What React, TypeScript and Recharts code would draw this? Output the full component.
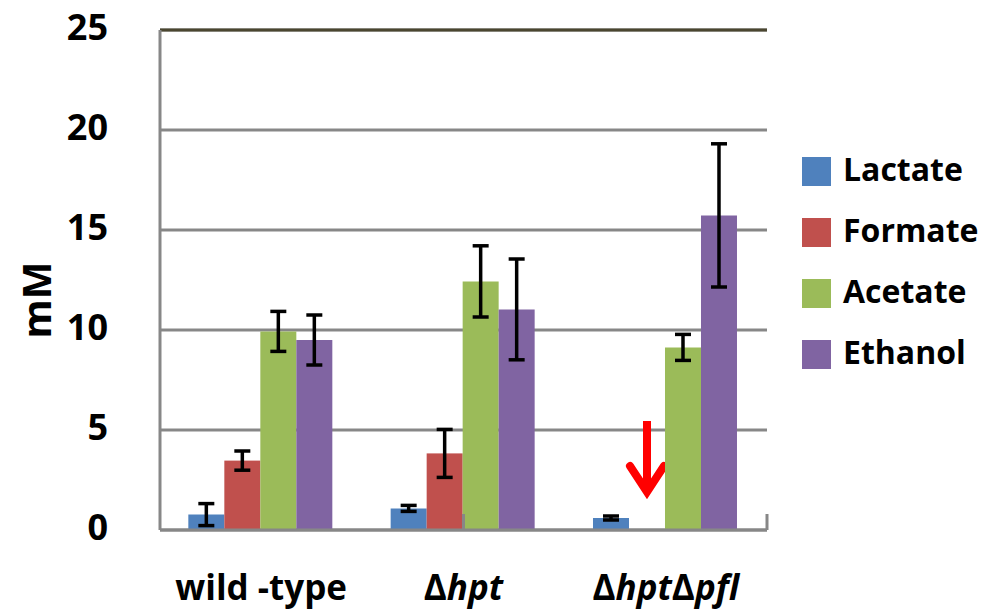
import React from "react";
import {
  BarChart, Bar, XAxis, YAxis, CartesianGrid, ErrorBar, Legend, ReferenceLine,
} from "recharts";

const STRAINS = ["wild -type", "Δhpt", "ΔhptΔpfl"];
const LACTATE = [0.77, 1.08, 0.6];
const LACTATE_ERR = [0.55, 0.15, 0.1];
const FORMATE = [3.47, 3.83, 0];
const FORMATE_ERR: (number | null)[] = [0.48, 1.2, null];
const ACETATE = [9.93, 12.43, 9.13];
const ACETATE_ERR = [1.0, 1.78, 0.65];
const ETHANOL = [9.5, 11.03, 15.73];
const ETHANOL_ERR = [1.25, 2.52, 3.58];
// formate absent in the double mutant -> red arrow
const NO_FORMATE = [false, false, true];
const Y_TICKS = [0, 5, 10, 15, 20, 25];
// category boundaries on the bottom axis
const EDGES = [1, 2, 3];

const SERIES = [
  { key: "lactate", name: "Lactate", color: "#4F81BD" },
  { key: "formate", name: "Formate", color: "#C0504D" },
  { key: "acetate", name: "Acetate", color: "#9BBB59" },
  { key: "ethanol", name: "Ethanol", color: "#8064A2" },
];

const data = STRAINS.map((s, i) => ({
  strain: s,
  lactate: LACTATE[i], lactateErr: LACTATE_ERR[i],
  formate: FORMATE[i], formateErr: FORMATE_ERR[i],
  acetate: ACETATE[i], acetateErr: ACETATE_ERR[i],
  ethanol: ETHANOL[i], ethanolErr: ETHANOL_ERR[i],
  noFormate: NO_FORMATE[i],
}));

const FONT = "'Open Sans', 'DejaVu Sans', sans-serif";
const GRID = "#878787";
const FRAME = "#4B4630";

const YTick = ({ y, payload }: any) => (
  <text x={108} y={y + 10} textAnchor="end" fontFamily={FONT} fontWeight={700} fontSize={36} fill="#000">
    {payload.value}
  </text>
);

const XTick = ({ x, y, payload }: any) => {
  const parts = String(payload.value).split(/(Δ)/).filter(Boolean);
  const mutant = parts.includes("Δ");
  return (
    <text x={x} y={y + 62} textAnchor="middle" fontFamily={FONT} fontWeight={700} fontSize={35} fill="#000">
      {parts.map((p, i) => (
        <tspan key={i} fontStyle={mutant && p !== "Δ" ? "italic" : "normal"}>{p}</tspan>
      ))}
    </text>
  );
};

const FormateShape = (props: any) => {
  const { x, y, width, height, fill, payload } = props;
  const cx = x + width / 2;
  return (
    <g>
      {height > 0 && <rect x={x} y={y} width={width} height={height} fill={fill} />}
      {payload.noFormate && (
        <g stroke="#FF0000" strokeWidth={8} fill="none">
          <line x1={cx} y1={y - 109} x2={cx} y2={y - 38} />
          <polyline points={`${cx - 17},${y - 64} ${cx},${y - 38} ${cx + 17},${y - 64}`} strokeLinejoin="miter" strokeLinecap="round" />
        </g>
      )}
    </g>
  );
};

const LegendBox = () => (
  <div style={{ fontFamily: FONT, fontWeight: 700, fontSize: 32 }}>
    {SERIES.map((s) => (
      <div key={s.key} style={{ display: "flex", alignItems: "center", height: 61 }}>
        <span style={{ width: 29, height: 29, background: s.color, display: "inline-block", marginRight: 12, flexShrink: 0 }} />
        <span style={{ lineHeight: "29px", marginTop: -6, whiteSpace: "nowrap" }}>{s.name}</span>
      </div>
    ))}
  </div>
);

export default function App() {
  return (
    <div style={{ position: "absolute", left: 0, top: 0, width: 994, height: 610, background: "#fff" }}>
      <BarChart
        width={994}
        height={610}
        data={data}
        margin={{ top: 30, right: 227, bottom: 0, left: 0 }}
        barGap={0}
        barCategoryGap="14%"
      >
        <CartesianGrid vertical={false} stroke={GRID} strokeWidth={3} yAxisId="y" xAxisId="cat" />
        <XAxis xAxisId="cat" dataKey="strain" height={80} tickLine={false} interval={0}
          axisLine={{ stroke: GRID, strokeWidth: 3 }} tick={<XTick />} />
        <XAxis xAxisId="edge" type="number" domain={[0, 3]} hide />
        <YAxis yAxisId="y" domain={[0, 25]} ticks={Y_TICKS} width={160} tickLine={false}
          axisLine={{ stroke: GRID, strokeWidth: 3 }} tick={<YTick />} />
        <YAxis yAxisId="r" orientation="right" domain={[0, 25]} width={0} tick={false} tickLine={false}
          axisLine={{ stroke: FRAME, strokeWidth: 3 }} />
        <ReferenceLine yAxisId="y" xAxisId="cat" y={25} stroke={FRAME} strokeWidth={3} />
        {EDGES.map((e) => (
          <ReferenceLine key={e} xAxisId="edge" yAxisId="y" stroke={GRID} strokeWidth={3}
            segment={[{ x: e, y: 0 }, { x: e, y: 0.8 }]} />
        ))}
        {SERIES.map((s) => (
          <Bar key={s.key} dataKey={s.key} name={s.name} fill={s.color} xAxisId="cat" yAxisId="y"
            isAnimationActive={false} shape={s.key === "formate" ? <FormateShape /> : undefined}>
            <ErrorBar dataKey={`${s.key}Err`} width={8} stroke="#000" strokeWidth={3.5} />
          </Bar>
        ))}
        <Legend layout="vertical" align="center" verticalAlign="middle" content={<LegendBox />}
          wrapperStyle={{ left: 802, top: 141, width: 190, height: 250 }} />
      </BarChart>
      <div style={{
        position: "absolute", left: 36, top: 300, transform: "translate(-50%,-50%) rotate(-90deg)",
        fontFamily: FONT, fontWeight: 700, fontSize: 40, whiteSpace: "nowrap", lineHeight: 1,
      }}>mM</div>
    </div>
  );
}
